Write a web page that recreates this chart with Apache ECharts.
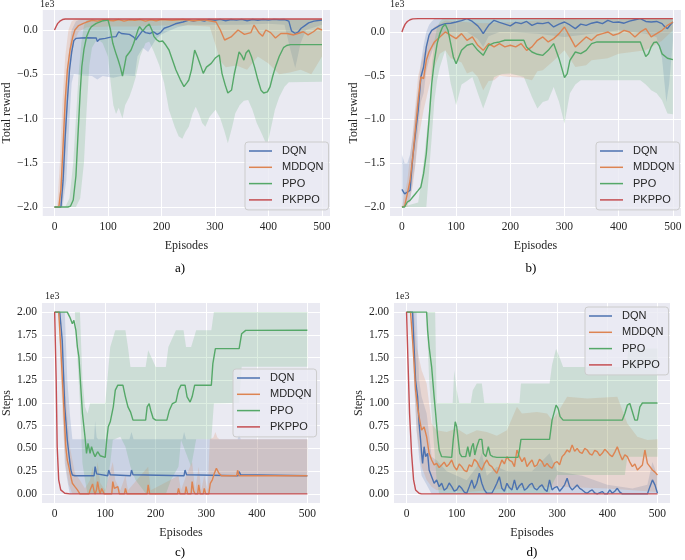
<!DOCTYPE html>
<html lang="en">
<head>
    <meta charset="UTF-8">
    <title>Total reward and steps per episode</title>
    <script src="https://cdn.jsdelivr.net/npm/echarts@6.0.0/dist/echarts.min.js"></script>
    <style>
        body, html {
            margin: 0;
            padding: 0;
            width: 100%;
            height: 100%;
            background-color: #fff;
        }
        #chart {
            width: 685px;
            height: 560px;
        }
    </style>
</head>
<body>
    <div id="chart"></div>
    <script>
        // algorithms and their colours (seaborn "deep")
        var names = ['DQN', 'MDDQN', 'PPO', 'PKPPO'];
        var colors = ['#4C72B0', '#DD8452', '#55A868', '#C44E52'];

        var xTicks = [0, 100, 200, 300, 400, 500];
        var rewardTicks = [-2000, -1500, -1000, -500, 0];
        var stepTicks = [0, 250, 500, 750, 1000, 1250, 1500, 1750, 2000];

        // ---- a) total reward ----
        var aDqn = [[0,-2000],[12,-2000],[16,-1700],[20,-1200],[24,-800],[28,-450],[32,-250],[36,-120],[40,-95],[50,-90],[60,-88],[78,-90],[80,-130],[84,-105],[95,-95],[105,-80],[115,-75],[120,-20],[125,-40],[140,-50],[148,-80],[152,-110],[158,-60],[165,-5],[170,-30],[178,-40],[185,-20],[192,-50],[198,-30],[205,20],[215,40],[226,70],[240,90],[251,113],[260,100],[270,115],[280,100],[288,118],[300,110],[310,120],[320,105],[330,118],[340,112],[350,120],[360,105],[370,118],[380,110],[390,118],[400,112],[410,120],[420,115],[430,118],[438,100],[443,-10],[450,-40],[456,-20],[461,20],[468,50],[475,80],[485,100],[500,113]];
        var aDqnLo = [[0,-2000],[15,-2000],[22,-1700],[28,-1000],[32,-600],[36,-500],[50,-510],[70,-520],[80,-560],[90,-520],[110,-540],[130,-510],[150,-520],[155,-300],[165,-200],[175,-250],[190,-100],[200,-50],[210,-20],[230,30],[250,60],[300,60],[350,60],[400,70],[430,60],[440,-200],[450,-430],[460,-150],[470,0],[490,40],[500,60]];
        var aDqnHi = [[0,-2000],[8,-2000],[14,-1500],[20,-800],[26,-300],[32,0],[40,100],[50,125],[500,125]];
        var aMddqn = [[0,-2000],[8,-2000],[12,-1800],[16,-1300],[20,-790],[24,-450],[29,-226],[34,-80],[38,0],[45,50],[54,75],[60,90],[70,110],[80,100],[90,115],[100,110],[110,105],[120,118],[130,100],[140,115],[150,110],[160,118],[170,100],[180,115],[190,105],[200,118],[220,110],[240,118],[260,105],[280,115],[302,90],[310,0],[318,-113],[330,-79],[343,0],[355,-50],[367,-30],[373,56],[382,-30],[389,-70],[395,0],[404,-30],[413,-90],[423,-40],[435,-40],[447,-56],[455,-40],[465,-20],[474,-56],[484,-20],[492,20],[500,0]];
        var aMddqnLo = [[0,-2000],[14,-2000],[18,-1700],[24,-900],[30,-400],[36,-150],[45,-20],[60,30],[100,40],[150,40],[200,50],[250,50],[290,40],[300,-150],[310,-350],[320,-420],[340,-400],[360,-450],[380,-300],[400,-380],[420,-500],[440,-480],[460,-450],[480,-500],[490,-400],[500,-300]];
        var aMddqnHi = [[0,-2000],[5,-2000],[10,-1500],[15,-800],[20,-300],[26,0],[32,100],[40,125],[500,125]];
        var aPpo = [[0,-2000],[25,-2000],[30,-1990],[35,-1921],[40,-1650],[44,-1168],[48,-700],[51,-414],[55,-220],[60,-75],[65,0],[69,38],[78,75],[91,105],[100,113],[104,20],[109,-150],[114,-250],[119,-339],[123,-420],[127,-520],[131,-400],[134,-300],[139,-260],[143,-226],[148,-150],[152,-75],[156,0],[159,38],[165,-10],[170,30],[177,68],[182,0],[186,-75],[191,-110],[196,-132],[202,-125],[208,-170],[214,-226],[220,-330],[227,-452],[235,-560],[242,-640],[247,-600],[251,-565],[256,-450],[262,-226],[267,-300],[273,-400],[278,-490],[284,-420],[293,-377],[300,-320],[308,-282],[313,-490],[319,-620],[324,-712],[331,-678],[336,-500],[345,-248],[350,-290],[354,-340],[358,-260],[363,-226],[368,-300],[374,-420],[380,-560],[386,-680],[391,-712],[398,-700],[403,-640],[408,-520],[413,-418],[420,-300],[428,-200],[434,-175],[441,-165],[500,-165]];
        var aPpoLo = [[0,-2000],[40,-2000],[48,-1900],[55,-1500],[60,-900],[65,-400],[70,-200],[80,-100],[90,-150],[100,-300],[105,-600],[110,-850],[115,-950],[120,-880],[127,-1000],[132,-850],[140,-754],[146,-650],[152,-527],[160,-300],[170,-150],[177,-130],[186,-250],[196,-400],[205,-600],[214,-904],[225,-1100],[232,-1200],[239,-1230],[245,-1150],[251,-1092],[258,-950],[264,-867],[270,-950],[276,-1050],[282,-1092],[290,-980],[301,-900],[310,-1000],[318,-1150],[324,-1281],[332,-1100],[338,-942],[346,-850],[354,-800],[362,-791],[370,-900],[378,-1050],[387,-1168],[394,-1262],[399,-1262],[405,-1100],[412,-900],[420,-760],[430,-640],[438,-590],[500,-585]];
        var aPpoHi = [[0,-2000],[20,-2000],[28,-1900],[35,-1500],[40,-1000],[45,-500],[50,-150],[55,50],[60,110],[500,118]];
        var aPkppo = [[0,0],[3,40],[6,75],[10,100],[15,118],[20,124],[30,125],[500,125]];

        // ---- b) total reward ----
        var bDqn = [[0,-1800],[5,-1850],[10,-1830],[15,-1810],[20,-1430],[25,-1162],[30,-895],[35,-514],[40,-400],[45,-171],[50,-38],[55,19],[60,38],[70,76],[80,95],[90,100],[100,114],[110,130],[120,152],[130,120],[140,70],[145,30],[150,-19],[155,30],[160,76],[170,133],[180,110],[190,90],[200,70],[210,110],[220,95],[230,120],[240,76],[250,100],[260,95],[270,110],[280,57],[290,90],[300,114],[310,80],[320,38],[330,90],[340,76],[350,100],[360,114],[370,95],[380,133],[390,110],[400,114],[410,100],[420,124],[430,140],[440,152],[450,120],[460,114],[470,120],[480,95],[485,60],[490,38],[495,80],[500,114]];
        var bDqnLo = [[0,-2000],[5,-2000],[10,-1950],[15,-1950],[20,-1700],[25,-1500],[30,-1100],[35,-800],[40,-700],[45,-450],[50,-324],[60,-150],[70,-50],[80,0],[100,0],[120,0],[140,-80],[150,-171],[160,-50],[180,0],[200,0],[250,-20],[300,-57],[350,-20],[400,19],[450,-20],[470,-60],[480,-300],[488,-800],[493,-600],[500,-100]];
        var bDqnHi = [[0,-1400],[5,-1500],[10,-1500],[15,-1400],[20,-1200],[25,-900],[30,-650],[35,-350],[40,-150],[45,0],[50,80],[55,120],[60,150],[500,150]];
        var bMddqn = [[0,-2000],[5,-1990],[10,-1848],[15,-1700],[20,-1430],[25,-1100],[30,-781],[35,-514],[40,-533],[45,-324],[50,-229],[55,-170],[60,-114],[70,-57],[80,0],[90,-38],[100,-76],[110,-19],[120,-95],[130,-57],[140,-152],[150,-210],[160,-133],[170,-171],[180,-133],[190,-171],[200,-152],[210,-171],[220,-133],[230,-210],[240,-171],[250,-95],[260,-57],[270,-114],[280,-76],[290,-19],[300,57],[310,-57],[320,-171],[330,-114],[340,-57],[350,-95],[360,-38],[370,-19],[380,0],[390,-38],[400,-19],[410,19],[420,0],[430,-57],[440,0],[450,38],[460,-57],[470,-19],[480,19],[490,76],[500,114]];
        var bMddqnLo = [[0,-2000],[10,-2000],[20,-1771],[30,-1238],[40,-895],[50,-629],[60,-400],[70,-250],[80,-210],[90,-300],[100,-324],[110,-350],[120,-476],[130,-450],[140,-514],[150,-667],[160,-560],[170,-552],[180,-500],[200,-514],[220,-520],[240,-552],[250,-450],[260,-438],[280,-330],[300,-210],[320,-400],[340,-380],[350,-324],[380,-300],[400,-248],[450,-210],[480,-100],[500,19]];
        var bMddqnHi = [[0,-2000],[10,-1700],[20,-1150],[30,-500],[40,-250],[50,-50],[60,60],[80,130],[100,120],[150,100],[200,110],[250,130],[300,150],[350,140],[400,140],[450,150],[500,150]];
        var bPpo = [[0,-2000],[5,-2000],[10,-1943],[15,-1924],[20,-1886],[25,-1848],[30,-1810],[35,-1771],[40,-1619],[45,-1390],[50,-1010],[55,-590],[60,-324],[65,-133],[70,-19],[75,57],[80,88],[85,19],[90,-133],[95,-286],[100,-362],[105,-286],[110,-210],[120,-152],[130,-133],[140,-210],[150,-267],[160,-152],[170,-124],[180,-114],[190,-95],[225,-95],[230,-171],[240,-229],[250,-255],[260,-267],[270,-210],[280,-133],[290,-305],[300,-522],[305,-476],[310,-324],[320,-229],[330,-248],[340,-210],[350,-133],[360,-114],[440,-114],[445,-200],[450,-280],[455,-250],[460,-170],[465,-120],[470,-114],[475,-160],[480,-250],[490,-300],[500,-316]];
        var bPpoLo = [[0,-2000],[45,-2000],[50,-1600],[55,-1200],[60,-781],[65,-550],[70,-400],[80,-210],[90,-590],[100,-838],[110,-600],[120,-560],[130,-514],[140,-700],[150,-876],[160,-700],[170,-514],[185,-480],[200,-476],[225,-514],[240,-743],[250,-876],[260,-800],[270,-781],[280,-629],[290,-800],[300,-1048],[310,-700],[320,-600],[330,-552],[440,-552],[450,-600],[460,-667],[470,-700],[480,-781],[490,-933],[500,-940]];
        var bPpoHi = [[0,-2000],[30,-1950],[40,-1500],[50,-900],[55,-400],[60,-100],[65,50],[70,120],[75,150],[500,150]];
        var bPkppo = [[0,0],[3,50],[6,90],[10,120],[15,140],[20,150],[30,152],[500,152]];

        // ---- c) steps ----
        var cDqn = [[0,2000],[10,2000],[15,1690],[20,958],[25,592],[28,446],[32,263],[35,208],[40,200],[78,200],[80,300],[83,220],[86,200],[105,200],[107,263],[110,210],[113,200],[150,200],[152,263],[155,210],[158,200],[256,200],[258,263],[261,210],[264,200],[363,200],[365,245],[368,210],[371,200],[500,200]];
        var cDqnLo = [[0,2000],[10,2000],[15,1300],[20,336],[25,150],[30,0],[500,0]];
        var cDqnHi = [[0,2000],[20,2000],[25,1250],[30,885],[35,600],[78,600],[80,800],[83,620],[86,600],[148,600],[152,680],[156,600],[253,600],[256,680],[260,600],[362,600],[365,660],[368,600],[500,600]];
        var cMddqn = [[0,2000],[8,2000],[12,1616],[18,958],[22,519],[25,373],[28,300],[32,190],[35,117],[40,80],[45,44],[50,0],[68,0],[70,40],[75,110],[78,30],[80,0],[83,50],[85,135],[88,40],[90,0],[93,60],[95,80],[98,0],[113,0],[115,135],[118,60],[120,40],[125,80],[128,0],[138,0],[140,60],[143,0],[183,0],[185,100],[188,0],[243,0],[245,60],[248,0],[258,0],[260,80],[263,0],[270,0],[272,135],[275,30],[278,0],[283,0],[285,100],[288,0],[294,0],[296,60],[299,0],[305,0],[308,117],[312,154],[316,227],[320,282],[325,227],[330,200],[360,200],[362,260],[365,200],[500,200]];
        var cMddqnLo = [[0,2000],[8,2000],[12,1300],[18,600],[22,300],[28,100],[35,0],[500,0]];
        var cMddqnHi = [[0,2000],[12,2000],[20,1200],[30,520],[40,230],[50,150],[60,60],[70,150],[75,300],[80,100],[85,350],[90,120],[100,40],[115,350],[120,150],[130,40],[140,200],[145,40],[185,300],[190,40],[245,200],[250,40],[260,200],[272,350],[278,40],[285,300],[290,40],[296,200],[303,40],[307,600],[314,620],[318,680],[322,620],[326,600],[500,600]];
        var cPpo = [[0,2000],[25,2000],[30,1945],[35,1872],[38,1910],[42,1799],[45,1616],[48,1506],[50,1324],[55,885],[60,629],[63,446],[66,556],[70,446],[73,519],[77,446],[80,410],[85,464],[90,420],[100,402],[103,592],[106,739],[110,793],[113,800],[116,958],[120,1141],[125,1196],[135,1196],[140,1068],[145,958],[150,903],[155,812],[180,812],[183,958],[187,994],[190,921],[195,830],[200,812],[222,812],[227,921],[233,994],[240,1013],[245,1141],[250,1196],[258,1196],[262,1068],[268,1010],[272,1068],[277,1196],[310,1196],[313,1433],[318,1598],[365,1598],[370,1762],[378,1799],[500,1800]];
        var cPpoLo = [[0,2000],[40,2000],[45,1500],[50,1000],[55,336],[60,154],[65,0],[100,0],[105,154],[110,336],[115,592],[130,629],[140,519],[150,300],[160,154],[180,7],[220,0],[230,154],[245,300],[250,592],[260,446],[270,300],[280,600],[310,600],[315,994],[365,1000],[370,1400],[500,1400]];
        var cPpoHi = [[0,2000],[50,2000],[55,1250],[60,958],[65,885],[70,994],[100,994],[105,1300],[110,1616],[120,1799],[140,1799],[145,1616],[150,1397],[180,1397],[185,1580],[190,1520],[200,1397],[220,1397],[225,1616],[240,1799],[255,1799],[260,1616],[270,1616],[280,1799],[310,1799],[315,2000],[500,2000]];
        var cPkppo = [[0,2000],[3,1250],[5,519],[8,154],[12,44],[20,7],[30,0],[500,0]];

        // ---- d) steps ----
        var dDqn = [[0,2000],[12,2000],[15,1616],[18,1250],[22,1068],[25,775],[28,592],[30,446],[32,336],[35,519],[38,410],[42,446],[45,263],[50,190],[55,117],[60,154],[65,80],[70,117],[75,40],[80,62],[85,120],[90,80],[95,30],[100,44],[105,90],[110,62],[115,20],[120,7],[125,80],[130,154],[135,60],[140,117],[145,227],[150,117],[155,44],[160,7],[170,7],[175,60],[180,117],[185,190],[190,62],[195,30],[200,117],[205,70],[210,44],[215,154],[220,44],[225,90],[230,117],[235,40],[240,62],[245,100],[250,117],[255,60],[260,44],[265,80],[270,99],[275,50],[280,26],[285,154],[290,44],[295,70],[300,80],[305,30],[310,62],[315,100],[320,172],[325,80],[330,44],[335,70],[340,99],[345,60],[350,44],[355,20],[360,7],[365,30],[370,44],[375,10],[380,0],[390,26],[395,0],[400,0],[405,44],[410,7],[415,30],[420,62],[425,20],[430,0],[480,0],[485,80],[490,154],[495,99],[500,7]];
        var dDqnLo = [[0,2000],[10,2000],[15,1200],[20,700],[25,400],[30,200],[40,100],[50,0],[500,0]];
        var dDqnHi = [[0,2000],[20,2000],[25,1250],[30,1068],[40,885],[50,410],[60,370],[80,250],[100,200],[120,150],[140,300],[150,446],[160,200],[180,300],[200,250],[250,250],[285,446],[300,250],[350,200],[400,100],[450,60],[480,100],[490,350],[500,200]];
        var dMddqn = [[0,2000],[8,2000],[12,1690],[15,1433],[18,1141],[22,958],[25,848],[30,702],[35,738],[40,629],[45,446],[50,373],[55,320],[60,336],[65,290],[70,318],[75,350],[80,300],[85,330],[90,373],[95,300],[100,263],[105,330],[110,300],[115,260],[120,245],[125,320],[130,300],[135,380],[140,355],[145,300],[150,263],[155,330],[160,373],[165,320],[170,300],[175,260],[180,227],[185,300],[190,373],[195,330],[200,410],[205,370],[210,355],[215,300],[220,483],[225,410],[230,355],[235,400],[240,300],[245,340],[250,373],[255,300],[260,318],[265,380],[270,355],[275,300],[280,336],[285,300],[290,282],[295,340],[300,355],[305,320],[310,410],[315,440],[320,483],[325,460],[330,537],[335,470],[340,501],[345,460],[350,446],[355,500],[360,483],[365,440],[370,428],[375,480],[380,464],[385,420],[390,446],[395,490],[400,464],[405,430],[410,410],[415,460],[420,519],[425,440],[430,373],[435,430],[440,410],[445,350],[450,300],[455,330],[460,263],[465,290],[470,318],[475,483],[480,336],[485,300],[490,263],[495,240],[500,208]];
        var dMddqnLo = [[0,2000],[10,2000],[20,700],[30,300],[40,154],[50,80],[60,40],[80,50],[120,20],[200,60],[300,80],[400,60],[450,40],[500,20]];
        var dMddqnHi = [[0,2000],[15,2000],[20,1616],[30,1360],[40,1214],[50,775],[60,700],[80,680],[100,720],[120,650],[140,700],[160,680],[180,640],[200,700],[220,958],[230,885],[260,900],[280,885],[290,812],[300,885],[320,1068],[360,1050],[420,1068],[440,775],[460,629],[480,592],[500,600]];
        var dPpo = [[0,2000],[40,2000],[42,1799],[45,1616],[50,1397],[55,1068],[58,885],[62,629],[65,483],[70,410],[90,402],[93,592],[97,793],[100,739],[103,592],[106,446],[110,410],[118,410],[122,519],[126,410],[130,519],[133,556],[136,428],[140,519],[145,600],[150,600],[153,446],[158,410],[163,519],[167,428],[172,410],[180,402],[222,402],[225,483],[228,600],[285,600],[290,812],[298,976],[302,940],[306,850],[312,812],[430,812],[435,885],[440,976],[445,995],[450,903],[455,812],[460,812],[465,958],[470,1000],[500,1000]];
        var dPpoLo = [[0,2000],[40,2000],[45,1250],[55,519],[60,154],[65,0],[285,0],[290,100],[300,208],[435,208],[440,410],[500,410]];
        var dPpoHi = [[0,2000],[57,2000],[60,1000],[92,1000],[95,1360],[100,1140],[105,1000],[128,1000],[132,1141],[140,1214],[150,1214],[155,1000],[225,1000],[228,1214],[285,1214],[290,1420],[298,1598],[305,1500],[312,1397],[438,1397],[442,1600],[500,1600]];
        var dPkppo = [[0,2000],[3,1433],[6,885],[10,446],[14,154],[18,44],[25,7],[30,0],[500,0]];

        var panels = [
            { grid: { left: 39, top: 10, width: 291, height: 206 }, x: [-22, 515], y: [-2102, 226],
              yTicks: rewardTicks, digits: 1, yName: 'Total reward', yGap: 26, legend: [245, 142],
              series: [[aDqn, aDqnLo, aDqnHi], [aMddqn, aMddqnLo, aMddqnHi], [aPpo, aPpoLo, aPpoHi], [aPkppo]] },
            { grid: { left: 390, top: 10, width: 291, height: 206 }, x: [-22, 515], y: [-2103, 251],
              yTicks: rewardTicks, digits: 1, yName: 'Total reward', yGap: 28, legend: [596, 142],
              series: [[bDqn, bDqnLo, bDqnHi], [bMddqn, bMddqnLo, bMddqnHi], [bPpo, bPpoLo, bPpoHi], [bPkppo]] },
            { grid: { left: 42, top: 303, width: 278, height: 200 }, x: [-25, 525], y: [-100, 2100],
              yTicks: stepTicks, digits: 2, yName: 'Steps', yGap: 28, legend: [233, 369],
              series: [[cDqn, cDqnLo, cDqnHi], [cMddqn, cMddqnLo, cMddqnHi], [cPpo, cPpoLo, cPpoHi], [cPkppo]] },
            { grid: { left: 394, top: 303, width: 276, height: 200 }, x: [-25, 525], y: [-100, 2100],
              yTicks: stepTicks, digits: 2, yName: 'Steps', yGap: 29, legend: [585, 307],
              series: [[dDqn, dDqnLo, dDqnHi], [dMddqn, dMddqnLo, dMddqnHi], [dPpo, dPpoLo, dPpoHi], [dPkppo]] }
        ];

        var serif = '"Liberation Serif", "Times New Roman", serif';
        var textColor = '#262626';

        var grids = [], xAxes = [], yAxes = [], legends = [], bands = [], lines = [];

        panels.forEach(function (p, i) {
            grids.push(Object.assign({ show: true, backgroundColor: '#EAEAF2', borderWidth: 0 }, p.grid));

            xAxes.push({
                type: 'value', gridIndex: i, min: p.x[0], max: p.x[1],
                name: 'Episodes', nameLocation: 'middle', nameGap: 24,
                nameTextStyle: { fontFamily: serif, fontSize: 12, color: textColor },
                axisLine: { show: false },
                axisTick: { show: false, customValues: xTicks },
                axisLabel: { customValues: xTicks, fontFamily: serif, fontSize: 11.5, color: textColor, margin: 5 },
                splitLine: { lineStyle: { color: '#ffffff', width: 1 } }
            });

            yAxes.push({
                type: 'value', gridIndex: i, min: p.y[0], max: p.y[1],
                name: p.yName, nameLocation: 'middle', nameGap: p.yGap,
                nameTextStyle: { fontFamily: serif, fontSize: 12, color: textColor },
                axisLine: { show: false },
                axisTick: { show: false, customValues: p.yTicks },
                axisLabel: {
                    customValues: p.yTicks, fontFamily: serif, fontSize: 11.5, color: textColor, margin: 5,
                    formatter: function (v) {
                        return (v < 0 ? '\u2212' : '') + Math.abs(v / 1000).toFixed(p.digits);
                    }
                },
                splitLine: { lineStyle: { color: '#ffffff', width: 1 } }
            });

            legends.push({
                data: names, orient: 'vertical', left: p.legend[0], top: p.legend[1],
                icon: 'rect', itemWidth: 23, itemHeight: 1.5, itemGap: 2.3,
                padding: [2, 5, 3, 4],
                backgroundColor: 'rgba(234,234,242,0.8)', borderColor: '#cccccc', borderWidth: 1, borderRadius: 3,
                selectedMode: false,
                textStyle: { fontFamily: '"Liberation Sans", Arial, sans-serif', fontSize: 11, color: textColor,
                             lineHeight: 14, padding: [0, 0, 0, 5] }
            });

            p.series.forEach(function (s, k) {
                var color = colors[k];
                if (s[1]) {
                    var lo = s[1], hi = s[2];
                    bands.push({
                        type: 'custom', name: names[k] + ' band', xAxisIndex: i, yAxisIndex: i,
                        silent: true, clip: true, z: 1, data: [[0, 0]],
                        renderItem: function (params, api) {
                            var pts = hi.map(function (d) { return api.coord(d); })
                                .concat(lo.slice().reverse().map(function (d) { return api.coord(d); }));
                            return { type: 'polygon', shape: { points: pts }, style: { fill: color, opacity: 0.2 } };
                        }
                    });
                }
                lines.push({
                    type: 'line', name: names[k], xAxisIndex: i, yAxisIndex: i, data: s[0],
                    showSymbol: false, symbol: 'none', silent: true, z: 2, color: color,
                    lineStyle: { color: color, width: 1.4 }
                });
            });
        });

        var small = '10px ' + serif;
        var caption = '13px ' + serif;
        var graphics = [
            { type: 'text', x: 40, y: 4, style: { text: '1e3', font: small, fill: textColor, verticalAlign: 'middle' } },
            { type: 'text', x: 390, y: 4, style: { text: '1e3', font: small, fill: textColor, verticalAlign: 'middle' } },
            { type: 'text', x: 45, y: 296, style: { text: '1e3', font: small, fill: textColor, verticalAlign: 'middle' } },
            { type: 'text', x: 395, y: 296, style: { text: '1e3', font: small, fill: textColor, verticalAlign: 'middle' } },
            { type: 'text', x: 180, y: 269, style: { text: 'a)', font: caption, fill: '#000', align: 'center', verticalAlign: 'middle' } },
            { type: 'text', x: 531, y: 269, style: { text: 'b)', font: caption, fill: '#000', align: 'center', verticalAlign: 'middle' } },
            { type: 'text', x: 180, y: 553, style: { text: 'c)', font: caption, fill: '#000', align: 'center', verticalAlign: 'middle' } },
            { type: 'text', x: 532, y: 553, style: { text: 'd)', font: caption, fill: '#000', align: 'center', verticalAlign: 'middle' } }
        ];

        var option = {
            backgroundColor: '#ffffff',
            animation: false,
            grid: grids,
            xAxis: xAxes,
            yAxis: yAxes,
            legend: legends,
            graphic: graphics,
            series: bands.concat(lines)
        };

        var chart = echarts.init(document.getElementById('chart'));
        chart.setOption(option);
    </script>
</body>
</html>
